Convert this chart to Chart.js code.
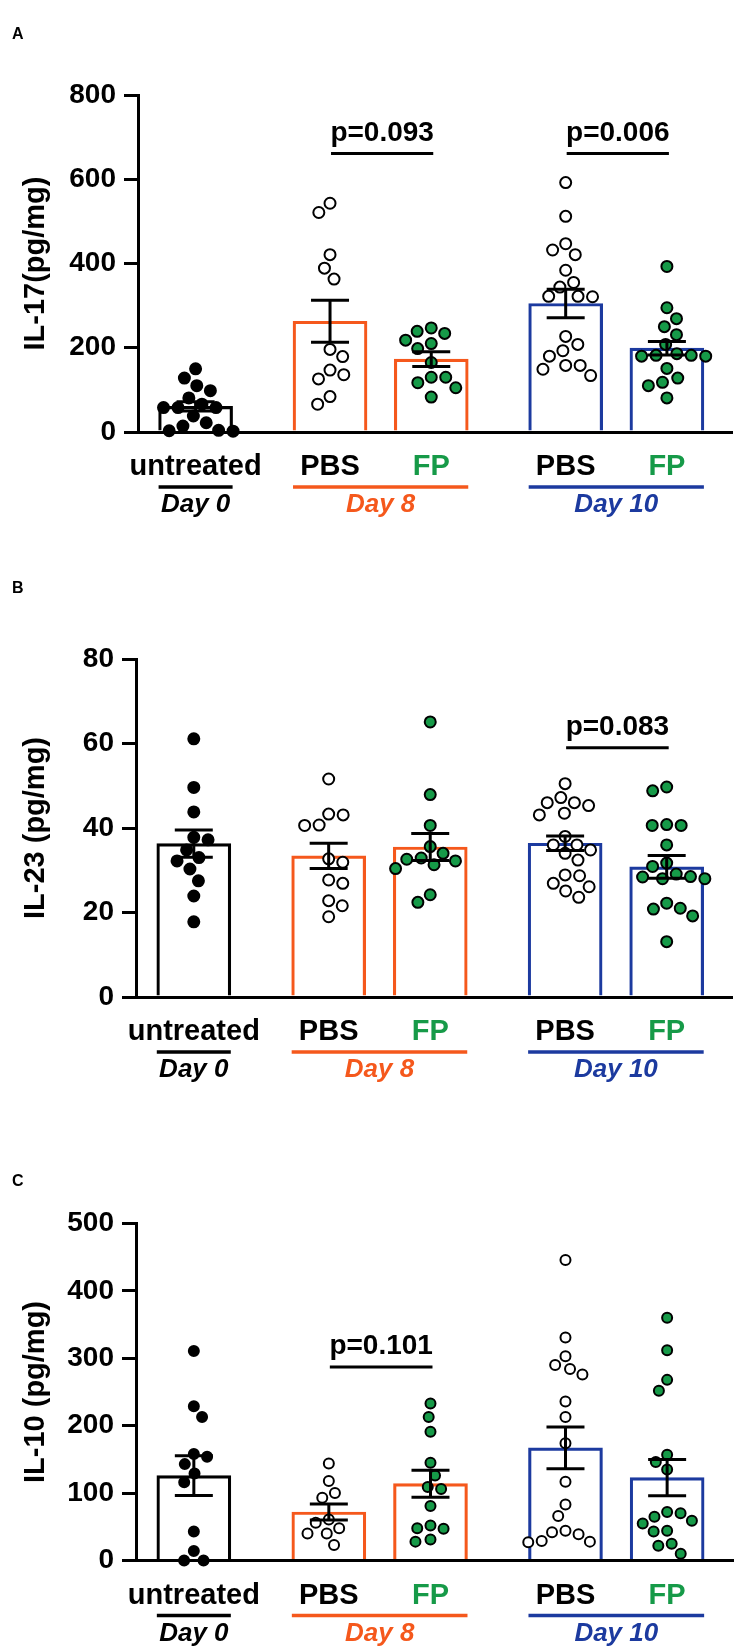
<!DOCTYPE html>
<html><head><meta charset="utf-8">
<script src="https://cdn.jsdelivr.net/npm/chart.js@4"></script>
<style>
html,body{margin:0;padding:0;background:#fff;}
body{width:740px;height:1652px;position:relative;overflow:hidden;}
canvas{position:absolute;left:0;}
</style></head><body>
<canvas id="cA" width="740" height="540" style="top:0px"></canvas>
<canvas id="cB" width="740" height="550" style="top:540px"></canvas>
<canvas id="cC" width="740" height="562" style="top:1090px"></canvas>
<script>
// ---------------- DATA ----------------
const groupLabels = ['untreated', 'PBS', 'FP', 'PBS', 'FP'];
const dayLabels = ['Day 0', 'Day 8', 'Day 10'];

// IL-17 (pg/mg)
const il17Untreated = [150, 128, 110, 98, 81, 66, 58, 58, 58, 38, 22, 14, 3, 2, 4];
const il17PbsDay8 = [543, 521, 421, 389, 363, 196, 179, 147, 136, 126, 84, 66];
const il17FpDay8 = [247, 234, 239, 210, 218, 198, 165, 130, 130, 117, 105, 83];
const il17PbsDay10 = [592, 512, 447, 421, 432, 384, 344, 355, 322, 321, 322, 227, 208, 193, 180, 158, 158, 149, 134];
const il17FpDay10 = [393, 295, 269, 250, 231, 208, 186, 182, 180, 180, 182, 151, 118, 128, 110, 81];
const il17Mean = [61, 263, 173, 305, 199];
const il17Sem = [11, 50, 17.5, 34, 16];
const il17Ticks = [0, 200, 400, 600, 800];
const il17PText = ['p=0.093', 'p=0.006'];
const il17PLevel = [661, 661];

// IL-23 (pg/mg)
const il23Untreated = [61.1, 49.6, 43.8, 37.8, 37.2, 34.8, 33, 32.2, 30.3, 27.5, 23.9, 17.8];
const il23PbsDay8 = [51.6, 43.3, 43.1, 40.6, 40.7, 32.7, 31.9, 27.7, 26.9, 22.8, 21.6, 19];
const il23FpDay8 = [65.1, 47.9, 40.6, 35.6, 34, 32.9, 32.6, 32.2, 31.3, 30.4, 24.2, 22.4];
const il23PbsDay10 = [50.5, 47.2, 46, 46, 45.3, 43.5, 43.1, 38, 36, 36, 34.8, 34, 32.4, 28.9, 28.7, 26.9, 26.1, 25.1, 23.6];
const il23FpDay10 = [49.7, 48.8, 40.8, 40.6, 40.6, 36, 31.7, 30.9, 29.1, 28.5, 28.4, 28, 28, 22.2, 21, 20.8, 19.2, 13.1];
const il23Mean = [36.3, 33.4, 35.5, 36.4, 30.8];
const il23Sem = [3.2, 3.0, 3.2, 1.7, 2.7];
const il23Ticks = [0, 20, 40, 60, 80];
const il23PText = ['p=0.083'];
const il23PLevel = [59];

// IL-10 (pg/mg)
const il10Untreated = [311, 229, 213, 158, 154, 143, 129, 116, 43, 14, 0, 0];
const il10PbsDay8 = [144, 118, 100, 93, 61, 56, 48, 40, 40, 23];
const il10FpDay8 = [233, 213, 191, 145, 126, 109, 106, 81, 52, 48, 47, 31, 28];
const il10PbsDay10 = [446, 331, 303, 290, 284, 276, 236, 213, 174, 117, 83, 66, 44, 42, 39, 29, 28, 27];
const il10FpDay10 = [360, 312, 268, 252, 157, 146, 135, 72, 70, 65, 59, 55, 44, 43, 25, 22, 10];
const il10Mean = [126, 72, 114, 167, 123];
const il10Sem = [29.5, 12, 20, 31, 27];
const il10Ticks = [0, 100, 200, 300, 400, 500];
const il10PText = ['p=0.101'];
const il10PLevel = [287];

// ---------------- LAYOUT / STYLE ----------------
const SLOT_X = [0.569, 1.897, 2.897, 4.225, 5.225];
const X_MAX = 5.873;
const DAY_SPANS = [[0, 0], [1, 2], [3, 4]];
const BLACK = '#000000', ORANGE = '#F5581C', BLUE = '#1C3A9F', GREEN = '#169A48';
const barColors = [BLACK, ORANGE, ORANGE, BLUE, BLUE];
const labelColors = [BLACK, BLACK, GREEN, BLACK, GREEN];
const dayColors = [BLACK, ORANGE, BLUE];
const dotFill = [BLACK, '#ffffff', GREEN, '#ffffff', GREEN];
const FONT = '"Liberation Sans", Arial, Helvetica, sans-serif';
Chart.defaults.font.family = FONT;

function swarm(values, pxPerY, pxPerX, D) {
  const order = values.map((v, i) => i).sort((a, b) => values[b] - values[a]);
  const placed = [];
  const off = new Array(values.length).fill(0);
  order.forEach((idx, k) => {
    const y = values[idx] * pxPerY;
    const cands = [0];
    placed.forEach(p => {
      const dy = Math.abs(p.y - y);
      if (dy < D) { const dx = Math.sqrt(D * D - dy * dy); cands.push(p.x + dx, p.x - dx); }
    });
    const ok = cands.filter(c => placed.every(p => (p.x - c) ** 2 + (p.y - y) ** 2 >= D * D - 1e-6));
    ok.sort((a, b) => (Math.abs(a) - Math.abs(b)) || (k % 2 ? a - b : b - a));
    const x = ok[0];
    placed.push({ x, y });
    off[idx] = x / pxPerX;
  });
  return off;
}

function makePanel(cfg) {
  const canvas = document.getElementById(cfg.id);
  const H = canvas.height;
  const plotTop = cfg.plotTop - cfg.canvasTop;
  const plotBottom = cfg.plotBottom - cfg.canvasTop;
  const pxPerX = (737 - cfg.axisX) / X_MAX;
  const pxPerY = (plotBottom - plotTop) / cfg.yMax;

  const datasets = [{
    type: 'bar',
    data: cfg.means.map((m, i) => ({ x: SLOT_X[i], y: m })),
    backgroundColor: 'rgba(255,255,255,0)',
    borderColor: barColors,
    borderWidth: 2.5,
    barThickness: 74,
    order: 3
  }];
  cfg.points.forEach((vals, g) => {
    const off = swarm(vals, pxPerY, pxPerX, cfg.r * 2 + 3.6);
    datasets.push({
      type: 'scatter',
      data: vals.map((v, i) => ({ x: SLOT_X[g] + off[i], y: v })),
      pointRadius: cfg.r,
      pointHoverRadius: cfg.r,
      pointBackgroundColor: dotFill[g],
      pointBorderColor: BLACK,
      pointBorderWidth: 2,
      showLine: false,
      clip: false,
      order: 1
    });
  });

  const deco = {
    id: 'deco',
    afterDatasetsDraw(chart) {
      const { ctx, scales: { x, y } } = chart;
      ctx.save();
      ctx.strokeStyle = BLACK;
      ctx.lineWidth = 3;
      ctx.lineCap = 'butt';
      const seg = (x1, y1, x2, y2) => { ctx.beginPath(); ctx.moveTo(x1, y1); ctx.lineTo(x2, y2); ctx.stroke(); };
      cfg.means.forEach((m, i) => {
        const cx = x.getPixelForValue(SLOT_X[i]);
        const t = y.getPixelForValue(m + cfg.sems[i]);
        const b = y.getPixelForValue(m - cfg.sems[i]);
        seg(cx, t, cx, b);
        seg(cx - 19, t, cx + 19, t);
        seg(cx - 19, b, cx + 19, b);
      });
      cfg.pairs.forEach((pr, k) => {
        const x1 = x.getPixelForValue(SLOT_X[pr[0]]) + 1;
        const x2 = x.getPixelForValue(SLOT_X[pr[1]]) + 2;
        const ly = y.getPixelForValue(cfg.pLevel[k]);
        ctx.lineWidth = 3;
        seg(x1, ly, x2, ly);
        ctx.fillStyle = BLACK;
        ctx.font = 'bold 28px ' + FONT;
        ctx.textAlign = 'center';
        ctx.textBaseline = 'alphabetic';
        ctx.fillText(cfg.pText[k], (x1 + x2) / 2, ly - 13);
      });
      ctx.restore();
    },
    afterDraw(chart) {
      const { ctx, scales: { x }, chartArea } = chart;
      const bot = chartArea.bottom;
      ctx.save();
      ctx.textAlign = 'center';
      ctx.textBaseline = 'alphabetic';
      ctx.font = 'bold 29px ' + FONT;
      groupLabels.forEach((lab, i) => {
        ctx.fillStyle = labelColors[i];
        ctx.fillText(lab, x.getPixelForValue(SLOT_X[i]), bot + 43);
      });
      DAY_SPANS.forEach((sp, d) => {
        const xa = x.getPixelForValue(SLOT_X[sp[0]]) - 37;
        const xb = x.getPixelForValue(SLOT_X[sp[1]]) + 37;
        ctx.strokeStyle = dayColors[d];
        ctx.lineWidth = 3.5;
        ctx.beginPath(); ctx.moveTo(xa, bot + 55); ctx.lineTo(xb, bot + 55); ctx.stroke();
        ctx.fillStyle = dayColors[d];
        ctx.font = 'italic bold 26px ' + FONT;
        ctx.fillText(dayLabels[d], (xa + xb) / 2, bot + 80);
      });
      ctx.fillStyle = BLACK;
      ctx.font = 'bold 16px ' + FONT;
      ctx.textAlign = 'left';
      ctx.fillText(cfg.letter, 12, cfg.letterY - cfg.canvasTop);
      ctx.restore();
    }
  };

  return new Chart(canvas, {
    type: 'scatter',
    data: { datasets },
    options: {
      responsive: false,
      animation: false,
      events: [],
      layout: { padding: { left: 0, right: 3, top: plotTop, bottom: H - plotBottom } },
      plugins: { legend: { display: false }, tooltip: { enabled: false } },
      scales: {
        x: {
          type: 'linear', min: 0, max: X_MAX, offset: false,
          afterFit: s => { s.height = 0; },
          ticks: { display: false },
          grid: { display: false, offset: false },
          border: { display: true, width: 3, color: BLACK }
        },
        y: {
          type: 'linear', min: 0, max: cfg.yMax,
          afterBuildTicks: s => { s.ticks = cfg.ticks.map(v => ({ value: v })); },
          afterFit: s => { s.width = cfg.axisX; },
          grid: { display: true, drawOnChartArea: false, drawTicks: true, tickLength: 14, lineWidth: 3, color: BLACK },
          border: { display: true, width: 3, color: BLACK },
          ticks: { color: BLACK, font: { size: 28, weight: 'bold' }, padding: 8 },
          title: { display: true, text: cfg.title, color: BLACK, font: { size: 29, weight: 'bold' }, padding: { top: 19, bottom: 0 } }
        }
      }
    },
    plugins: [deco]
  });
}

makePanel({
  id: 'cA', canvasTop: 0, plotTop: 95, plotBottom: 432, axisX: 138, yMax: 800,
  ticks: il17Ticks, title: 'IL-17(pg/mg)', letter: 'A', letterY: 39, r: 5.5,
  points: [il17Untreated, il17PbsDay8, il17FpDay8, il17PbsDay10, il17FpDay10],
  means: il17Mean, sems: il17Sem, pairs: [[1, 2], [3, 4]], pText: il17PText, pLevel: il17PLevel
});
makePanel({
  id: 'cB', canvasTop: 540, plotTop: 659, plotBottom: 997, axisX: 136, yMax: 80,
  ticks: il23Ticks, title: 'IL-23 (pg/mg)', letter: 'B', letterY: 593, r: 5.5,
  points: [il23Untreated, il23PbsDay8, il23FpDay8, il23PbsDay10, il23FpDay10],
  means: il23Mean, sems: il23Sem, pairs: [[3, 4]], pText: il23PText, pLevel: il23PLevel
});
makePanel({
  id: 'cC', canvasTop: 1090, plotTop: 1223.5, plotBottom: 1560.5, axisX: 136, yMax: 500,
  ticks: il10Ticks, title: 'IL-10 (pg/mg)', letter: 'C', letterY: 1186, r: 5,
  points: [il10Untreated, il10PbsDay8, il10FpDay8, il10PbsDay10, il10FpDay10],
  means: il10Mean, sems: il10Sem, pairs: [[1, 2]], pText: il10PText, pLevel: il10PLevel
});
</script>
</body></html>
